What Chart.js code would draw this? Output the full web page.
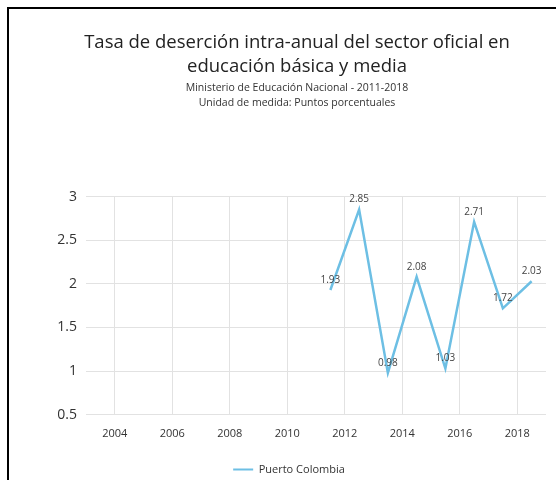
<!DOCTYPE html>
<html>
<head>
<meta charset="utf-8">
<script src="https://cdn.jsdelivr.net/npm/chart.js@4/dist/chart.umd.min.js"></script>
<style>
  html, body { margin: 0; padding: 0; overflow: hidden; background: #fff; }
  #box { position: absolute; left: 7px; top: 7px; border: 2px solid #000; width: 576px; height: 490px; background: #fff; }
  canvas { display: block; }
</style>
</head>
<body>
<div id="box"><canvas id="c" width="576" height="490"></canvas></div>
<script>
const titleLines = ["Tasa de deserción intra-anual del sector oficial en", "educación básica y media"];
const subtitleLines = ["Ministerio de Educación Nacional - 2011-2018", "Unidad de medida: Puntos porcentuales"];
const seriesName = "Puerto Colombia";
const years = [2011.5, 2012.5, 2013.5, 2014.5, 2015.5, 2016.5, 2017.5, 2018.5];
const values = [1.93, 2.85, 0.98, 2.08, 1.03, 2.71, 1.72, 2.03];
const valueLabels = ["1.93", "2.85", "0.98", "2.08", "1.03", "2.71", "1.72", "2.03"];
const xTickYears = [2004, 2006, 2008, 2010, 2012, 2014, 2016, 2018];
const yTicks = [0.5, 1, 1.5, 2, 2.5, 3];

const FONT = "'Open Sans', 'Noto Sans', sans-serif";
const LINE_COLOR = '#6dbfe4';

const labelPlugin = {
  id: 'valueLabels',
  afterDatasetsDraw(chart) {
    const ctx = chart.ctx;
    const meta = chart.getDatasetMeta(0);
    ctx.save();
    ctx.font = "10px " + FONT;
    ctx.fillStyle = "#444";
    ctx.textAlign = "center";
    ctx.textBaseline = "middle";
    meta.data.forEach((pt, i) => {
      ctx.fillText(valueLabels[i], pt.x, pt.y - 10);
    });
    ctx.restore();
  }
};

const legendShift = {
  id: 'legendShift',
  afterLayout(chart) {
    if (chart.legend) {
      chart.legend.left -= 8;
      chart.legend.right -= 8;
    }
  }
};

new Chart(document.getElementById('c'), {
  type: 'line',
  data: {
    datasets: [{
      label: seriesName,
      data: years.map((y, i) => ({ x: y, y: values[i] })),
      borderColor: LINE_COLOR,
      backgroundColor: LINE_COLOR,
      borderWidth: 2.5,
      pointRadius: 0,
      pointHoverRadius: 0,
      tension: 0,
      fill: false,
      yAxisID: 'y'
    }]
  },
  options: {
    responsive: false,
    animation: false,
    layout: { padding: { left: 0, right: 0, top: 0, bottom: 14 } },
    plugins: {
      title: {
        display: true,
        text: titleLines,
        color: '#222',
        font: { family: FONT, size: 18.5, weight: 'normal', lineHeight: 1.3 },
        padding: { top: 22, bottom: 0 }
      },
      subtitle: {
        display: true,
        text: subtitleLines,
        color: '#333',
        font: { family: FONT, size: 10.5, weight: 'normal', lineHeight: 1.45 },
        padding: { top: 1, bottom: 86 }
      },
      legend: {
        position: 'bottom',
        labels: {
          color: '#333',
          font: { family: FONT, size: 11 },
          boxWidth: 20,
          boxHeight: 2,
          padding: 12,
          generateLabels(chart) {
            const items = Chart.defaults.plugins.legend.labels.generateLabels(chart);
            items.forEach(it => { it.lineWidth = 0; it.fillStyle = LINE_COLOR; });
            return items;
          }
        }
      },
      tooltip: { enabled: false }
    },
    scales: {
      x: {
        type: 'linear',
        min: 2003,
        max: 2019,
        afterBuildTicks(scale) { scale.ticks = xTickYears.map(v => ({ value: v })); },
        ticks: {
          color: '#333',
          font: { family: FONT, size: 11 },
          padding: 12,
          maxRotation: 0,
          callback: v => String(v)
        },
        grid: { color: '#e2e2e2', drawTicks: false },
        border: { display: false }
      },
      y: {
        position: 'left',
        min: 0.5,
        max: 3,
        afterBuildTicks(scale) { scale.ticks = yTicks.map(v => ({ value: v })); },
        afterFit(scale) { scale.width = 77; },
        ticks: {
          color: '#333',
          font: { family: FONT, size: 14 },
          padding: 9,
          callback: v => String(v)
        },
        grid: { color: '#e2e2e2', drawTicks: false },
        border: { display: false }
      },
      yRight: {
        position: 'right',
        display: true,
        min: 0,
        max: 1,
        afterFit(scale) { scale.width = 39; },
        ticks: { display: false },
        grid: { display: false, drawTicks: false },
        border: { display: false }
      }
    }
  },
  plugins: [labelPlugin, legendShift]
});
</script>
</body>
</html>
